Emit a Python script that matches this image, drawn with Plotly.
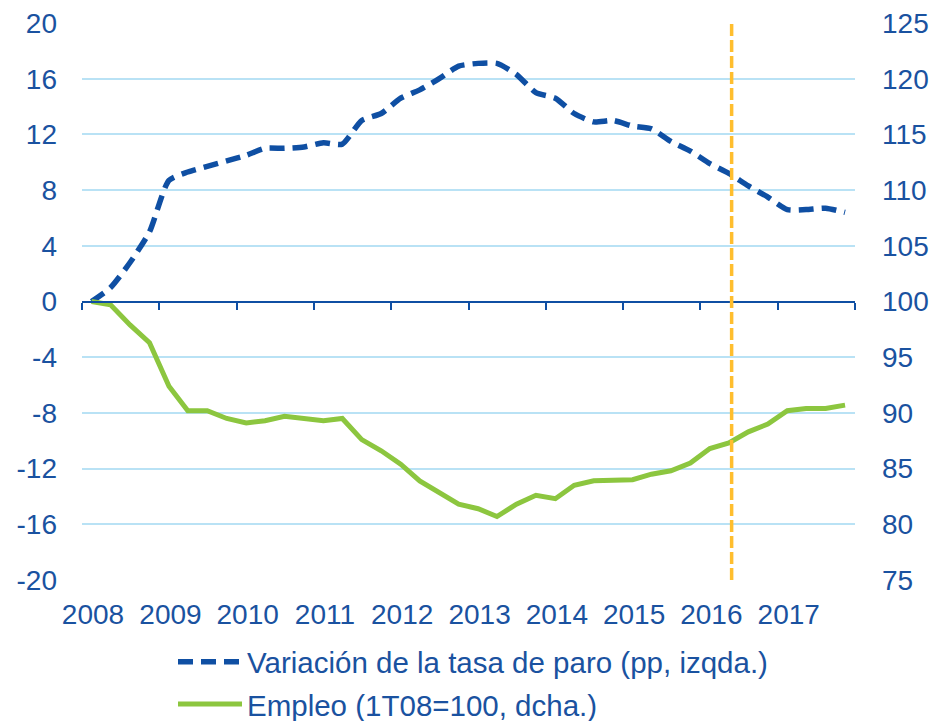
import plotly.graph_objects as go

# Quarters 1T08 .. 4T17
anios = [2008, 2009, 2010, 2011, 2012, 2013, 2014, 2015, 2016, 2017]
trimestres = [f"{q}T{str(a)[2:]}" for a in anios for q in (1, 2, 3, 4)]
meses_medios = {1: "02-15", 2: "05-15", 3: "08-15", 4: "11-15"}
fechas = [f"{a}-{meses_medios[q]}" for a in anios for q in (1, 2, 3, 4)]

# Variación de la tasa de paro (pp, eje izquierdo)
paro = [0.0, 1.0, 2.8, 5.0, 8.7, 9.3, 9.7, 10.1, 10.5, 11.0,
        11.0, 11.1, 11.4, 11.3, 13.0, 13.5, 14.6, 15.2, 16.0, 16.9,
        17.1, 17.1, 16.3, 15.0, 14.6, 13.5, 12.9, 13.0, 12.6, 12.4,
        11.5, 10.8, 9.9, 9.2, 8.3, 7.5, 6.6, 6.6, 6.7, 6.4]

# Empleo (1T08=100, eje derecho)
empleo = [100.0, 99.7, 97.9, 96.3, 92.4, 90.2, 90.2, 89.5, 89.1, 89.3,
          89.7, 89.5, 89.3, 89.5, 87.6, 86.6, 85.4, 83.9, 82.8, 81.8,
          81.4, 80.7, 81.8, 82.6, 82.3, 83.5, 83.9, 83.9, 84.0, 84.5,
          84.8, 85.5, 86.8, 87.3, 88.3, 89.0, 90.2, 90.4, 90.4, 90.7]

ticks_izq = [-20, -16, -12, -8, -4, 0, 4, 8, 12, 16, 20]
ticks_der = [75, 80, 85, 90, 95, 100, 105, 110, 115, 120, 125]
anios_eje = [f"{a}-01-01" for a in anios + [2018]]
etiquetas_eje = [str(a) for a in anios] + [""]
corte = "2016-05-28"

AZUL = "#0F4FA3"
VERDE = "#8CC63F"
NARANJA = "#FFBE2E"
REJILLA = "#B9E2F5"
FAM = "Liberation Sans, Arial, sans-serif"
FUENTE = dict(family=FAM, size=28, color="#1A52A0")
FUENTE_LEY = dict(family=FAM, size=29.5, color="#1A52A0")

ANCHO, ALTO = 930, 721

fig = go.Figure()
fig.add_trace(go.Scatter(
    x=fechas, y=paro, mode="lines", name="Variación de la tasa de paro (pp, izqda.)",
    xaxis="x", yaxis="y", legendgroup="a",
    line=dict(color=AZUL, width=5.5, dash="15px,8px", shape="spline", smoothing=0.6),
))
fig.add_trace(go.Scatter(
    x=fechas, y=empleo, mode="lines", name="Empleo (1T08=100, dcha.)",
    xaxis="x", yaxis="y2", legendgroup="b",
    line=dict(color=VERDE, width=5),
))
# invisible trace so the middle (zero-crossing) axis with tick marks gets drawn
fig.add_trace(go.Scatter(
    x=fechas, y=paro, mode="lines", xaxis="x2", yaxis="y",
    line=dict(width=0, color="rgba(0,0,0,0)"), showlegend=False, hoverinfo="skip",
))

fig.add_shape(type="line", xref="x", yref="paper", x0=corte, x1=corte, y0=0, y1=1,
              line=dict(color=NARANJA, width=3.5, dash="12px,4px"), layer="above")

fig.update_layout(
    width=ANCHO, height=ALTO,
    margin=dict(l=82, r=75, t=23, b=141, autoexpand=False),
    paper_bgcolor="white", plot_bgcolor="white",
    font=FUENTE,
    showlegend=True,
    legend=dict(xref="container", yref="container",
                x=173 / ANCHO, y=1 - 636 / ALTO, xanchor="left", yanchor="top",
                orientation="v", font=FUENTE_LEY, tracegroupgap=1,
                itemwidth=64, bgcolor="rgba(0,0,0,0)"),
    xaxis=dict(type="date", range=["2008-01-01", "2018-01-01"],
               tickmode="array", tickvals=anios_eje, ticktext=etiquetas_eje,
               showgrid=False, zeroline=False, showline=False, ticks="",
               ticklabelshift=11, ticklabelstandoff=15, tickfont=FUENTE,
               ticklabeloverflow="allow"),
    xaxis2=dict(type="date", overlaying="x", matches="x", anchor="free", position=0.5,
                range=["2008-01-01", "2018-01-01"],
                tickmode="array", tickvals=anios_eje, showticklabels=False,
                showgrid=False, zeroline=False, showline=True, linecolor=AZUL, linewidth=2,
                ticks="outside", ticklen=7, tickwidth=2, tickcolor=AZUL),
    yaxis=dict(range=[-20, 20], tickmode="array", tickvals=ticks_izq,
               ticktext=[str(v) for v in ticks_izq],
               showgrid=True, gridcolor=REJILLA, gridwidth=1.5,
               zeroline=False, showline=False, ticks="",
               ticklabelstandoff=24, tickfont=FUENTE, ticklabeloverflow="allow"),
    yaxis2=dict(range=[75, 125], overlaying="y", side="right",
                tickmode="array", tickvals=ticks_der,
                ticktext=[str(v) for v in ticks_der],
                showgrid=False, zeroline=False, showline=False, ticks="",
                ticklabelstandoff=26, tickfont=FUENTE, ticklabeloverflow="allow"),
)

fig.write_html(
    "out.html",
    config={"displayModeBar": False},
    post_script="document.body.style.margin='0';document.body.style.overflow='hidden';",
)
